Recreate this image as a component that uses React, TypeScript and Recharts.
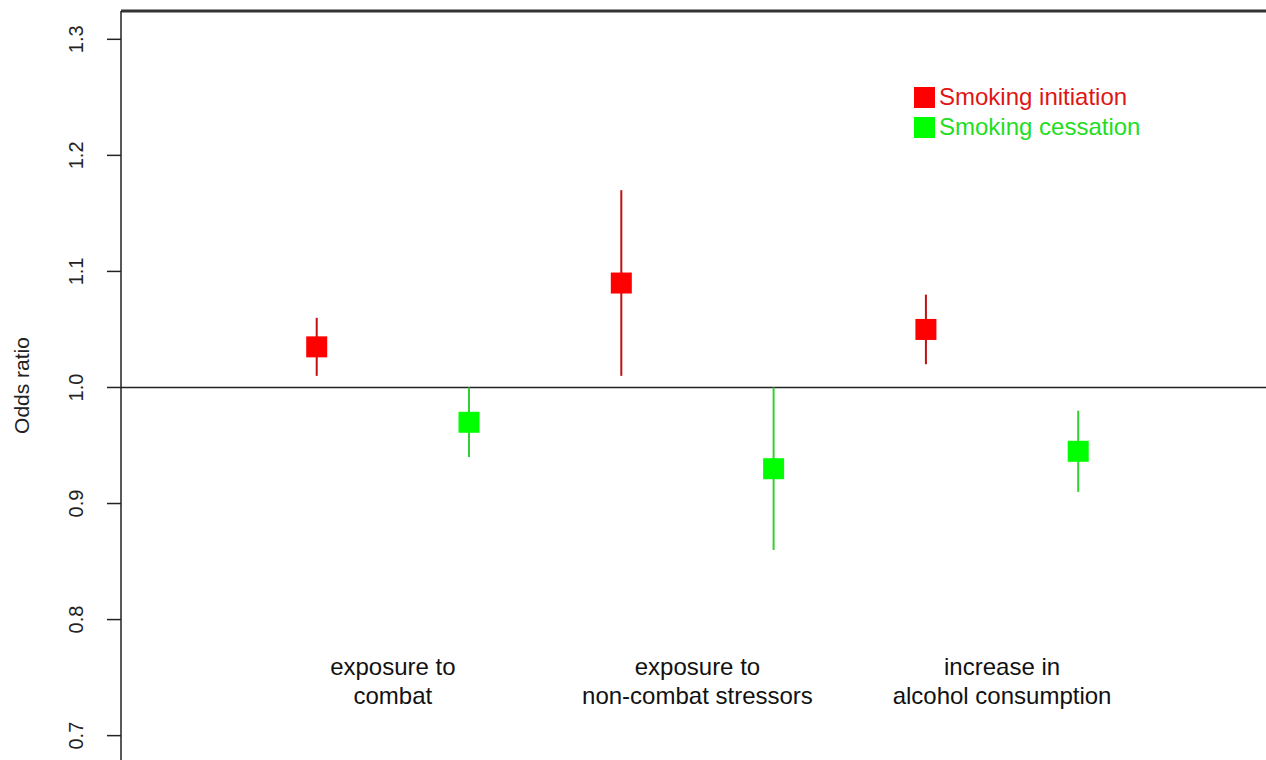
import React from "react";
import {
  ComposedChart,
  Scatter,
  XAxis,
  YAxis,
  ErrorBar,
  ReferenceLine,
  Legend,
} from "recharts";

// odds ratios (x positions are the slot index)
const initX = [1, 3, 5];
const initOR = [1.035, 1.09, 1.05];
const initLo = [1.01, 1.01, 1.02];
const initHi = [1.06, 1.17, 1.08];

const cessX = [2, 4, 6];
const cessOR = [0.97, 0.93, 0.945];
const cessLo = [0.94, 0.86, 0.91];
const cessHi = [1.0, 1.0, 0.98];

const yTicks = [0.7, 0.8, 0.9, 1.0, 1.1, 1.2, 1.3];

const groupX = [1.5, 3.5, 5.5];
const groupY = 0.76;
const groupLabels = [
  ["exposure to", "combat"],
  ["exposure to", "non-combat stressors"],
  ["increase in", "alcohol consumption"],
];

const legendNames = ["Smoking initiation", "Smoking cessation"];
const legendFills = ["#ff0000", "#00ff00"];
const legendText = ["#e01515", "#22dd22"];

const FONT = '"Liberation Sans", Arial, Helvetica, sans-serif';

const build = (xs: number[], or: number[], lo: number[], hi: number[]) =>
  xs.map((x, i) => ({ x, y: or[i], err: [or[i] - lo[i], hi[i] - or[i]] }));

const initData = build(initX, initOR, initLo, initHi);
const cessData = build(cessX, cessOR, cessLo, cessHi);
const labelData = groupX.map((x, i) => ({ x, y: groupY, lines: groupLabels[i] }));

const square = (fill: string) => (props: any) => {
  const { cx, cy } = props;
  if (cx == null || cy == null) return <g />;
  return <rect x={cx - 10.5} y={cy - 10.5} width={21} height={21} fill={fill} />;
};

const GroupLabel = (props: any) => {
  const { cx, cy, payload } = props;
  if (cx == null || cy == null) return <g />;
  return (
    <text x={cx} y={cy + 9} textAnchor="middle" fontSize={24} fill="#111" fontFamily={FONT}>
      <tspan x={cx}>{payload.lines[0]}</tspan>
      <tspan x={cx} dy={29}>
        {payload.lines[1]}
      </tspan>
    </text>
  );
};

const YTick = (props: any) => {
  const { x, y, payload } = props;
  return (
    <text
      x={x - 22}
      y={y}
      transform={`rotate(-90 ${x - 22} ${y})`}
      textAnchor="middle"
      fontSize={20}
      fill="#222"
      fontFamily={FONT}
    >
      {payload.value.toFixed(1)}
    </text>
  );
};

const LegendBox = () => (
  <div style={{ fontFamily: FONT, fontSize: 24 }}>
    {legendNames.map((n, i) => (
      <div key={n} style={{ display: "flex", alignItems: "center", height: 30 }}>
        <div style={{ width: 21, height: 21, background: legendFills[i], marginRight: 4 }} />
        <span style={{ color: legendText[i], lineHeight: "30px" }}>{n}</span>
      </div>
    ))}
  </div>
);

export default function App() {
  return (
    <div
      style={{
        position: "absolute",
        left: 0,
        top: 0,
        width: 1266,
        height: 760,
        overflow: "hidden",
        background: "#fff",
      }}
    >
      <ComposedChart width={1266} height={760} margin={{ top: 11, right: 0, bottom: 0, left: 0 }}>
        <XAxis type="number" dataKey="x" domain={[-0.285, 7.233]} hide allowDataOverflow />
        <YAxis
          type="number"
          dataKey="y"
          width={121}
          domain={[0.679, 1.3244]}
          ticks={yTicks}
          allowDataOverflow
          tickSize={14}
          tickLine={{ stroke: "#222", strokeWidth: 1.5 }}
          axisLine={{ stroke: "#222", strokeWidth: 1.5 }}
          tick={<YTick />}
          label={{
            content: (p: any) => {
              const vb = p.viewBox || { y: 11, height: 749 };
              const cy = vb.y + vb.height / 2;
              return (
                <text
                  x={29}
                  y={cy}
                  transform={`rotate(-90 29 ${cy})`}
                  textAnchor="middle"
                  fontSize={21}
                  fill="#222"
                  fontFamily={FONT}
                >
                  Odds ratio
                </text>
              );
            },
          }}
        />
        <ReferenceLine y={1.3244} stroke="#333" strokeWidth={3} ifOverflow="visible" />
        <ReferenceLine y={1.0} stroke="#222" strokeWidth={1.5} />
        <Legend
          layout="horizontal"
          verticalAlign="middle"
          align="center"
          content={<LegendBox />}
          wrapperStyle={{ left: 914, top: 82, width: 260 }}
        />
        <Scatter
          name={legendNames[0]}
          data={initData}
          fill="#ff0000"
          shape={square("#ff0000")}
          isAnimationActive={false}
          legendType="square"
        >
          <ErrorBar dataKey="err" direction="y" width={0} stroke="#c01010" strokeWidth={2} isAnimationActive={false} />
        </Scatter>
        <Scatter
          name={legendNames[1]}
          data={cessData}
          fill="#00ff00"
          shape={square("#00ff00")}
          isAnimationActive={false}
          legendType="square"
        >
          <ErrorBar dataKey="err" direction="y" width={0} stroke="#33d033" strokeWidth={2} isAnimationActive={false} />
        </Scatter>
        <Scatter
          name="labels"
          data={labelData}
          shape={<GroupLabel />}
          isAnimationActive={false}
          legendType="none"
        />
      </ComposedChart>
    </div>
  );
}
